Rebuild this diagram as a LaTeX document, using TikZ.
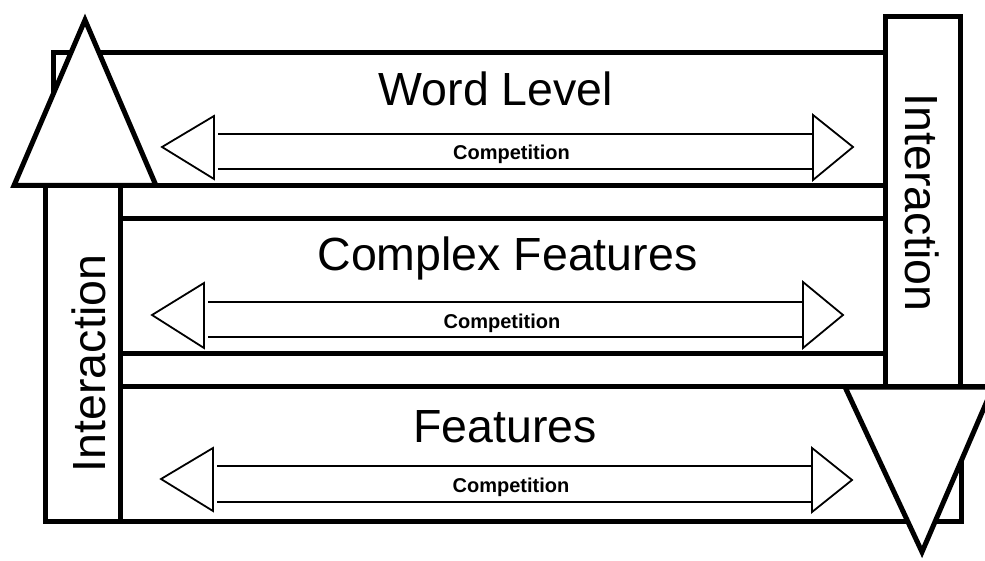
\documentclass[tikz,border=0pt]{standalone}
\usepackage{fontspec}
\setmainfont{Liberation Sans}
\begin{document}
\begin{tikzpicture}[x=1pt,y=-1pt,
  frame/.style={line width=5pt, line join=miter},
  arrowline/.style={line width=1.8pt, line join=miter},
  head/.style={arrowline, fill=white},
  title/.style={font=\fontsize{46.5}{50}\selectfont, anchor=base, inner sep=0pt},
  comp/.style={font=\bfseries\fontsize{20}{24}\selectfont, anchor=base, inner sep=0pt}]
\useasboundingbox (0,0) rectangle (985,561);
\clip (0,0) rectangle (985,561);

% the three level bands
\draw[frame] (53,53) rectangle (885.5,185.5);
\draw[frame] (120,219) rectangle (885.5,353);
\draw[frame] (120,386) rectangle (961.5,521);
\draw[frame] (961.5,386) -- (990,386);

% interaction columns
\draw[frame] (45,185.5) rectangle (120,521);
\draw[frame] (885.5,386) -- (885.5,16.5) -- (960.5,16.5) -- (960.5,386);

% big arrowheads of the interaction columns
\draw[frame, fill=white] (85,20) -- (156,185.5) -- (14,185.5) -- cycle;
\draw[frame, fill=white] (845,387) -- (993,387) -- (922,552) -- cycle;

% competition arrows, word level
\draw[head] (162,147) -- (214,116) -- (214,179) -- cycle;
\draw[head] (853,147) -- (813,115) -- (813,180) -- cycle;
\draw[arrowline] (218,134) -- (813,134) (218,169) -- (813,169);

% competition arrows, complex features
\draw[head] (152,315) -- (204,283) -- (204,348) -- cycle;
\draw[head] (843,315) -- (803,282) -- (803,348) -- cycle;
\draw[arrowline] (208,302) -- (803,302) (208,337) -- (803,337);

% competition arrows, features
\draw[head] (161,479) -- (213,448) -- (213,511) -- cycle;
\draw[head] (852,480) -- (812,448) -- (812,512) -- cycle;
\draw[arrowline] (217,466) -- (812,466) (217,502) -- (812,502);

% labels
\node[title] (wl) at (496,106) {Word Level};
\node[title] (cf) at (507.5,271) {Complex Features};
\node[title] (ft) at (505,442) {Features};
\node[comp] (c1) at (511.5,160) {Competition};
\node[comp] (c2) at (502,328) {Competition};
\node[comp] (c3) at (511,492.5) {Competition};
\node[title, rotate=90] (il) at (105,363.5) {Interaction};
\node[title, rotate=-90] (ir) at (905,202.5) {Interaction};
\end{tikzpicture}
\end{document}
